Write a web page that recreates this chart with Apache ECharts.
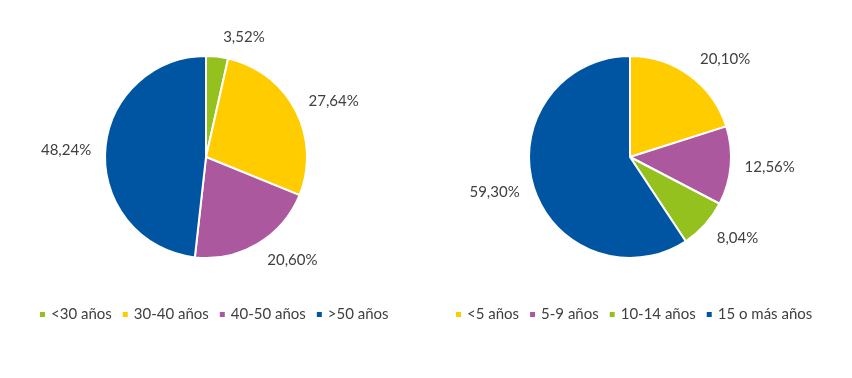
<!DOCTYPE html>
<html>
<head>
<meta charset="utf-8">
<script src="https://cdn.jsdelivr.net/npm/echarts@6/dist/echarts.min.js"></script>
<style>
html,body{margin:0;padding:0;background:#fff;}
#c{width:852px;height:378px;}
</style>
</head>
<body>
<div id="c"></div>
<script>
const edadCategories = ['<30 años', '30-40 años', '40-50 años', '>50 años'];
const edadValues = [3.52, 27.64, 20.60, 48.24];
const antigCategories = ['<5 años', '5-9 años', '10-14 años', '15 o más años'];
const antigValues = [20.10, 12.56, 8.04, 59.30];

const GREEN = '#95C11F', YELLOW = '#FFCC00', PURPLE = '#AB589E', BLUE = '#0055A3';
const edadColors = [GREEN, YELLOW, PURPLE, BLUE];
const antigColors = [YELLOW, PURPLE, GREEN, BLUE];

const FONT = 'Lato, "Open Sans", sans-serif';
const CY = 157;

function fmt(v) { return v.toFixed(2).replace('.', ',') + '%'; }

function buildData(cats, vals, colors) {
  return cats.map((c, i) => ({ name: c, value: vals[i], itemStyle: { color: colors[i] } }));
}

function pieSeries(name, cats, vals, colors, center) {
  return {
    name: name,
    type: 'pie',
    center: center,
    radius: [0, 101],
    startAngle: 90,
    clockwise: true,
    avoidLabelOverlap: false,
    itemStyle: { borderColor: '#fff', borderWidth: 2 },
    label: {
      show: true,
      position: 'outside',
      formatter: p => fmt(p.value),
      color: '#404040',
      fontFamily: FONT,
      fontSize: 15
    },
    labelLine: { show: false, length: 9, length2: 0 },
    labelLayout: function (p) {
      const r = p.labelRect;
      const cy = r.y + r.height / 2;
      return { dy: Math.round((cy - CY) * 0.1) };
    },
    emphasis: { disabled: true },
    data: buildData(cats, vals, colors)
  };
}

function legend(cats, left) {
  return {
    data: cats,
    left: left,
    top: 302,
    orient: 'horizontal',
    icon: 'rect',
    itemWidth: 7,
    itemHeight: 7,
    itemGap: 9,
    textStyle: { color: '#404040', fontFamily: FONT, fontSize: 15, padding: [0, 0, 0, 0] }
  };
}

const chart = echarts.init(document.getElementById('c'), null, { renderer: 'canvas' });
chart.setOption({
  backgroundColor: '#fff',
  animation: false,
  legend: [legend(edadCategories, 33), legend(antigCategories, 449)],
  series: [
    pieSeries('Edad', edadCategories, edadValues, edadColors, [206, CY]),
    pieSeries('Antigüedad', antigCategories, antigValues, antigColors, [630, CY])
  ]
});
</script>
</body>
</html>
